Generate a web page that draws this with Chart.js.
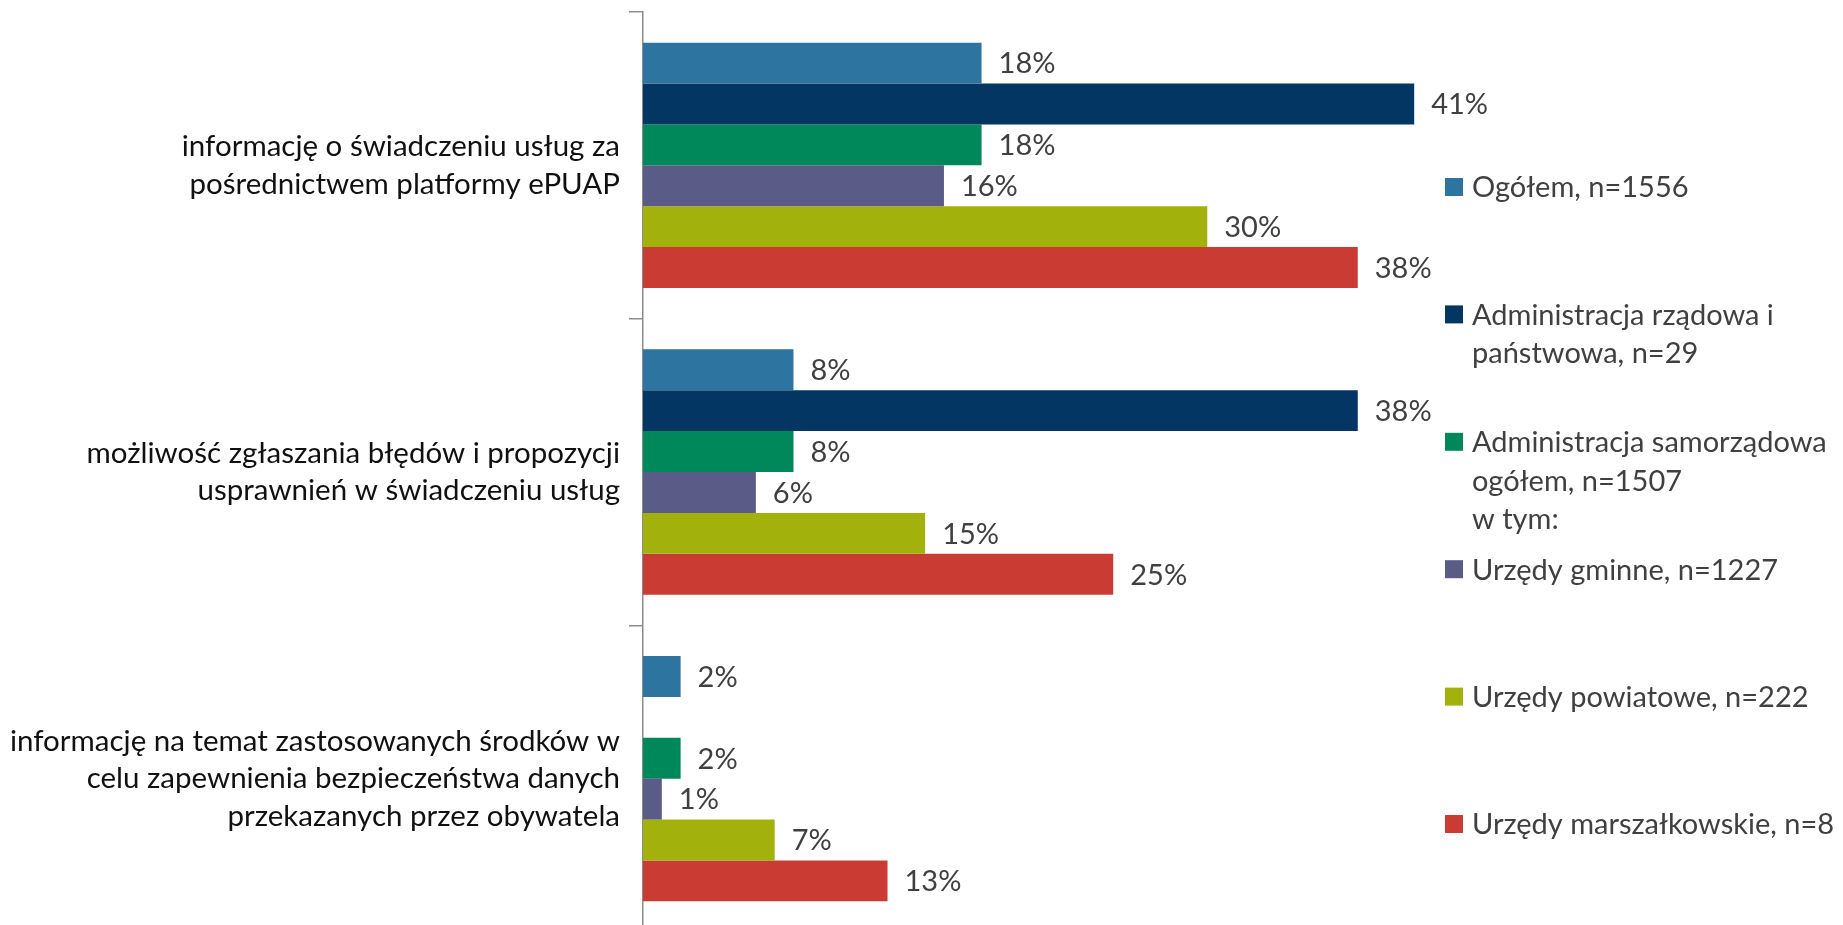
<!DOCTYPE html>
<html lang="pl">
<head>
<meta charset="utf-8">
<title>Wykres</title>
<script src="https://cdn.jsdelivr.net/npm/chart.js@4/dist/chart.umd.min.js"></script>
<style>
  html, body { margin: 0; padding: 0; background: #ffffff; overflow: hidden; }
  #wrap { position: relative; width: 1843px; height: 932px; }
</style>
</head>
<body>
<div id="wrap"><canvas id="chart"></canvas></div>
<script>
// Categories (multi-line axis labels)
const categories = [
  ["informację o świadczeniu usług za", "pośrednictwem platformy ePUAP"],
  ["możliwość zgłaszania błędów i propozycji", "usprawnień w świadczeniu usług"],
  ["informację na temat zastosowanych środków w", "celu zapewnienia bezpieczeństwa danych", "przekazanych przez obywatela"]
];

// Series names (legend, may wrap to several lines)
const seriesNames = [
  ["Ogółem, n=1556"],
  ["Administracja rządowa i", "państwowa, n=29"],
  ["Administracja samorządowa", "ogółem, n=1507", "w tym:"],
  ["Urzędy gminne, n=1227"],
  ["Urzędy powiatowe, n=222"],
  ["Urzędy marszałkowskie, n=8"]
];

// Values in percent, one array per series
const ogolem         = [18, 8, 2];
const rzadowa        = [41, 38, 0];
const samorzadowa    = [18, 8, 2];
const gminne         = [16, 6, 1];
const powiatowe      = [30, 15, 7];
const marszalkowskie = [38, 25, 13];

const seriesValues = [ogolem, rzadowa, samorzadowa, gminne, powiatowe, marszalkowskie];
const seriesColors = ["#2E74A1", "#033663", "#00885A", "#5A5B86", "#A2B10C", "#CA3C33"];

const FONT = "Lato, 'Open Sans', sans-serif";
const TEXT_SIZE = 29;

// Percentage labels to the right of each bar
const barValueLabels = {
  id: "barValueLabels",
  afterDatasetsDraw(chart) {
    const ctx = chart.ctx;
    ctx.save();
    ctx.font = TEXT_SIZE + "px " + FONT;
    ctx.fillStyle = "#404040";
    ctx.textAlign = "left";
    ctx.textBaseline = "middle";
    chart.data.datasets.forEach((ds, di) => {
      const meta = chart.getDatasetMeta(di);
      meta.data.forEach((bar, i) => {
        const v = ds.data[i];
        if (!v) return;
        ctx.fillText(v + "%", bar.x + 17, bar.y + 1);
      });
    });
    ctx.restore();
  }
};

// Legend on the right, evenly spaced items with wrapped text
const sideLegend = {
  id: "sideLegend",
  afterDraw(chart) {
    const ctx = chart.ctx;
    const x0 = 1445, box = 18, textX = 1472;
    const firstY = 187, step = 127.4, lineGap = 38.5;
    ctx.save();
    ctx.font = TEXT_SIZE + "px " + FONT;
    ctx.textAlign = "left";
    ctx.textBaseline = "middle";
    chart.data.datasets.forEach((ds, i) => {
      const cy = firstY + i * step;
      ctx.fillStyle = ds.backgroundColor;
      ctx.fillRect(x0, cy - box / 2, box, box);
      ctx.fillStyle = "#404040";
      seriesNames[i].forEach((line, li) => {
        ctx.fillText(line, textX, cy + 1 + li * lineGap);
      });
    });
    ctx.restore();
  }
};

new Chart(document.getElementById("chart"), {
  type: "bar",
  data: {
    labels: categories,
    datasets: seriesValues.map((vals, i) => ({
      label: seriesNames[i].join(" "),
      data: vals,
      backgroundColor: seriesColors[i],
      borderWidth: 0,
      categoryPercentage: 0.8,
      barPercentage: 1.0
    }))
  },
  options: {
    indexAxis: "y",
    responsive: true,
    maintainAspectRatio: false,
    animation: false,
    layout: { padding: { top: 12, right: 410, bottom: 0, left: 0 } },
    plugins: {
      legend: { display: false },
      tooltip: { enabled: false }
    },
    scales: {
      x: { min: 0, max: 42, display: false },
      y: {
        grid: {
          display: true,
          drawOnChartArea: false,
          drawTicks: true,
          tickLength: 14,
          offset: true,
          color: "#8C8C8C",
          lineWidth: 1.5
        },
        border: { display: true, color: "#8C8C8C", width: 1.5 },
        ticks: {
          autoSkip: false,
          padding: 9,
          color: "#111111",
          font: { family: FONT, size: 29.5, lineHeight: 1.27 }
        },
        afterFit(scale) {
          scale.width = 643;
          scale.paddingTop = 0;
          scale.paddingBottom = 0;
        }
      }
    }
  },
  plugins: [barValueLabels, sideLegend]
});
</script>
</body>
</html>
